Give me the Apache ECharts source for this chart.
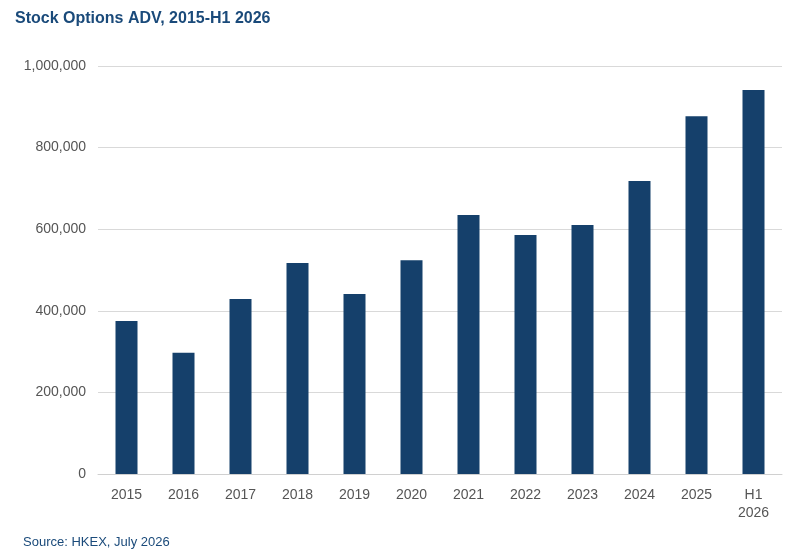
<!DOCTYPE html>
<html>
<head>
<meta charset="utf-8">
<script src="https://cdn.jsdelivr.net/npm/echarts@6/dist/echarts.min.js"></script>
<style>html,body{margin:0;padding:0;background:#fff}#main{width:800px;height:558px}</style>
</head>
<body>
<div id="main"></div>
<script>
var categories = ['2015','2016','2017','2018','2019','2020','2021','2022','2023','2024','2025','H1\n2026'];
var adv = [375000, 297000, 429000, 517000, 441000, 524000, 635000, 586000, 610000, 718000, 877000, 941000];
var yTicks = [0, 200000, 400000, 600000, 800000, 1000000];

var chart = echarts.init(document.getElementById('main'));
chart.setOption({
  animation: false,
  textStyle: {fontFamily: 'Liberation Sans, Arial, sans-serif'},
  title: [{
    text: 'Stock Options ADV, 2015-H1 2026',
    left: 10, top: 6,
    textStyle: {color: '#1a4a7a', fontSize: 16, fontWeight: 'bold'}
  }, {
    text: 'Source: HKEX, July 2026',
    left: 18, top: 531,
    textStyle: {color: '#1a4a7a', fontSize: 13, fontWeight: 'normal'}
  }],
  grid: {left: 98, right: 18, top: 66, bottom: 84},
  xAxis: {
    type: 'category',
    data: categories,
    axisTick: {show: false},
    axisLine: {lineStyle: {color: '#d0d0d0'}},
    axisLabel: {color: '#555', fontSize: 14, margin: 12, lineHeight: 18}
  },
  yAxis: {
    type: 'value',
    min: yTicks[0], max: yTicks[yTicks.length - 1], interval: 200000,
    axisLine: {show: false},
    axisTick: {show: false},
    splitLine: {lineStyle: {color: '#d9d9d9'}},
    axisLabel: {
      color: '#555', fontSize: 14, margin: 12,
      formatter: function (v) { return v.toLocaleString('en-US'); }
    }
  },
  series: [{
    type: 'bar',
    data: adv,
    barWidth: 22,
    itemStyle: {color: '#15406b'}
  }]
});
</script>
</body>
</html>
